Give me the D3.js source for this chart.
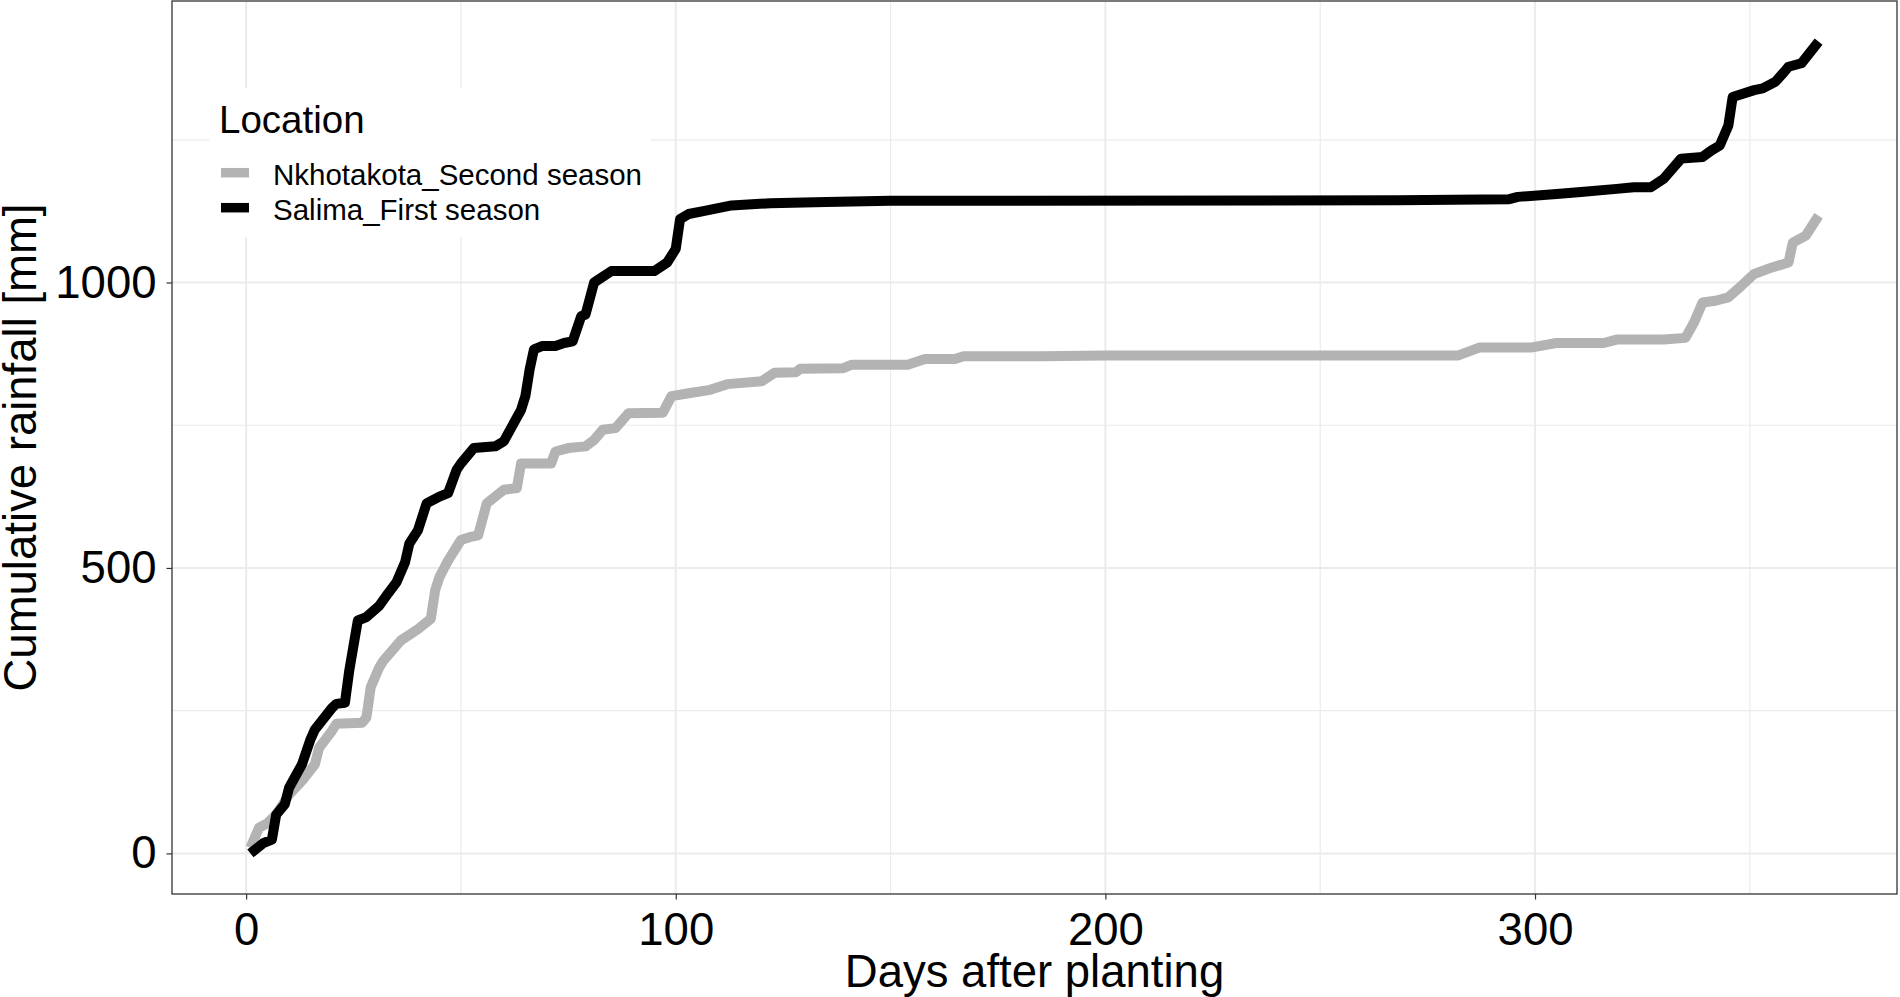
<!DOCTYPE html>
<html>

<head>
    <meta charset="utf-8">
    <title>cumulative rainfall</title>
    <style>
        body { margin: 0; background: #fff; }
        text { font-family: "Liberation Sans", Arial, sans-serif; fill: #000; }
    </style>
</head>

<body>
    <svg class="chart"></svg>
    <script type="text/javascript" src="https://cdn.jsdelivr.net/npm/d3@7/dist/d3.min.js"></script>
    <script type="text/javascript">
    // Salima_First season
    var salimaDays = [1, 4, 6, 7, 9, 10, 13, 15, 16, 20, 21, 23, 24, 26, 28, 31, 33, 35, 37, 38, 40, 42, 45, 47, 49, 50, 53, 58, 60, 64, 65, 66, 67, 69, 72, 74, 76, 78, 79, 81, 85, 95, 98, 100, 101, 103, 107, 113, 122, 135, 150, 268, 294, 296, 305, 310, 319, 323, 327, 330, 334, 339, 341, 343, 345, 346, 351, 353, 356, 358, 359, 362, 366];
    var salimaRain = [0, 18, 24, 68, 86, 115, 156, 200, 217, 255, 262, 264, 320, 408, 414, 434, 455, 475, 510, 543, 566, 613, 625, 631, 672, 683, 710, 713, 722, 777, 801, 848, 883, 889, 889, 894, 897, 941, 944, 1000, 1020, 1020, 1035, 1059, 1111, 1120, 1126, 1135, 1139, 1141, 1143, 1144, 1146, 1150, 1155, 1158, 1164, 1167, 1167, 1182, 1217, 1220, 1231, 1240, 1275, 1325, 1337, 1340, 1352, 1369, 1378, 1384, 1422];

    // Nkhotakota_Second season
    var nkhotaDays = [1, 3, 5, 7, 10, 13, 16, 17, 20, 21, 27, 28, 29, 31, 32, 36, 40, 43, 44, 45, 47, 50, 52, 54, 56, 59, 60, 63, 64, 71, 72, 75, 79, 81, 83, 86, 89, 97, 99, 103, 108, 112, 120, 123, 128, 129, 139, 141, 154, 158, 165, 167, 185, 200, 282, 287, 299, 305, 316, 319, 330, 335, 337, 339, 342, 345, 348, 351, 355, 359, 360, 363, 366];
    var nkhotaRain = [10, 45, 53, 68, 103, 127, 156, 185, 215, 227, 229, 238, 291, 326, 338, 373, 393, 411, 461, 484, 513, 549, 554, 557, 613, 631, 637, 640, 683, 683, 704, 710, 713, 724, 742, 745, 771, 772, 801, 806, 812, 822, 827, 842, 843, 849, 850, 856, 856, 866, 866, 871, 871, 872, 872, 886, 886, 894, 894, 900, 900, 903, 930, 965, 968, 974, 994, 1015, 1026, 1035, 1070, 1082, 1117];

    var seriesNames = ["Nkhotakota_Second season", "Salima_First season"];
    var seriesColors = ["#b3b3b3", "#000000"];
    var xTicks = [0, 100, 200, 300],
        xMinor = [50, 150, 250, 350],
        yTicks = [0, 500, 1000],
        yMinor = [250, 750, 1250];

    var series = [
        { name: seriesNames[0], color: seriesColors[0], values: nkhotaDays.map(function(d, i) { return { x: d, y: nkhotaRain[i] }; }) },
        { name: seriesNames[1], color: seriesColors[1], values: salimaDays.map(function(d, i) { return { x: d, y: salimaRain[i] }; }) }
    ];

    var width = 1900,
        height = 997,
        panelLeft = 172,
        panelRight = 1897,
        panelTop = 1,
        panelBottom = 894;

    var allX = salimaDays.concat(nkhotaDays),
        allY = salimaRain.concat(nkhotaRain);
    var xMin = d3.min(allX), xMax = d3.max(allX),
        yMin = d3.min(allY), yMax = d3.max(allY);
    var xPad = (xMax - xMin) * 0.05,
        yPad = (yMax - yMin) * 0.05;

    var x = d3.scaleLinear().domain([xMin - xPad, xMax + xPad]).range([panelLeft, panelRight]);
    var y = d3.scaleLinear().domain([yMin - yPad, yMax + yPad]).range([panelBottom, panelTop]);

    var svg = d3.select('.chart')
        .attr('width', width)
        .attr('height', height);

    svg.append('rect')
        .attr('width', width)
        .attr('height', height)
        .attr('fill', '#fff');

    var grid = svg.append('g');
    grid.selectAll('.vmin').data(xMinor).enter().append('line')
        .attr('x1', x).attr('x2', x).attr('y1', panelTop).attr('y2', panelBottom)
        .attr('stroke', '#ebebeb').attr('stroke-width', 1.2);
    grid.selectAll('.hmin').data(yMinor).enter().append('line')
        .attr('y1', y).attr('y2', y).attr('x1', panelLeft).attr('x2', panelRight)
        .attr('stroke', '#ebebeb').attr('stroke-width', 1.2);
    grid.selectAll('.vmaj').data(xTicks).enter().append('line')
        .attr('x1', x).attr('x2', x).attr('y1', panelTop).attr('y2', panelBottom)
        .attr('stroke', '#ebebeb').attr('stroke-width', 2);
    grid.selectAll('.hmaj').data(yTicks).enter().append('line')
        .attr('y1', y).attr('y2', y).attr('x1', panelLeft).attr('x2', panelRight)
        .attr('stroke', '#ebebeb').attr('stroke-width', 2);

    var line = d3.line()
        .x(function(d) { return x(d.x); })
        .y(function(d) { return y(d.y); });

    svg.selectAll('.series')
        .data(series)
        .enter()
        .append('path')
        .attr('fill', 'none')
        .attr('stroke', function(d) { return d.color; })
        .attr('stroke-width', 10)
        .attr('stroke-linejoin', 'round')
        .attr('stroke-linecap', 'butt')
        .attr('d', function(d) { return line(d.values); });

    // axes
    var xAxis = svg.append('g')
        .attr('transform', 'translate(0,' + panelBottom + ')')
        .call(d3.axisBottom(x).tickValues(xTicks).tickSize(5.5).tickPadding(13).tickFormat(d3.format('d')));
    var yAxis = svg.append('g')
        .attr('transform', 'translate(' + panelLeft + ',0)')
        .call(d3.axisLeft(y).tickValues(yTicks).tickSize(5.5).tickPadding(10).tickFormat(d3.format('d')));

    [xAxis, yAxis].forEach(function(a) {
        a.select('.domain').remove();
        a.selectAll('.tick line').attr('stroke', '#333').attr('stroke-width', 1.2);
        a.selectAll('.tick text')
            .attr('fill', '#000')
            .style('font-family', '"Liberation Sans", Arial, sans-serif')
            .style('font-size', '45.5px');
    });

    svg.append('rect')
        .attr('x', panelLeft)
        .attr('y', panelTop)
        .attr('width', panelRight - panelLeft)
        .attr('height', panelBottom - panelTop)
        .attr('fill', 'none')
        .attr('stroke', '#333')
        .attr('stroke-width', 1.3);

    svg.append('text')
        .attr('x', (panelLeft + panelRight) / 2)
        .attr('y', 987)
        .attr('text-anchor', 'middle')
        .style('font-size', '45.5px')
        .text('Days after planting');

    svg.append('text')
        .attr('transform', 'translate(36,' + (panelTop + panelBottom) / 2 + ') rotate(-90)')
        .attr('text-anchor', 'middle')
        .style('font-size', '45.5px')
        .text('Cumulative rainfall [mm]');

    // legend
    var legend = svg.append('g');
    legend.append('rect')
        .attr('x', 209)
        .attr('y', 88)
        .attr('width', 442)
        .attr('height', 149)
        .attr('fill', '#fff');
    legend.append('text')
        .attr('x', 219)
        .attr('y', 132.5)
        .style('font-size', '38.5px')
        .text('Location');

    var items = legend.selectAll('.item')
        .data(series)
        .enter()
        .append('g')
        .attr('transform', function(d, i) { return 'translate(0,' + (172.7 + i * 35) + ')'; });
    items.append('line')
        .attr('x1', 221)
        .attr('x2', 249)
        .attr('stroke', function(d) { return d.color; })
        .attr('stroke-width', 9.5);
    items.append('text')
        .attr('x', 273)
        .attr('y', 12.3)
        .style('font-size', '29.5px')
        .text(function(d) { return d.name; });
    </script>
</body>

</html>
